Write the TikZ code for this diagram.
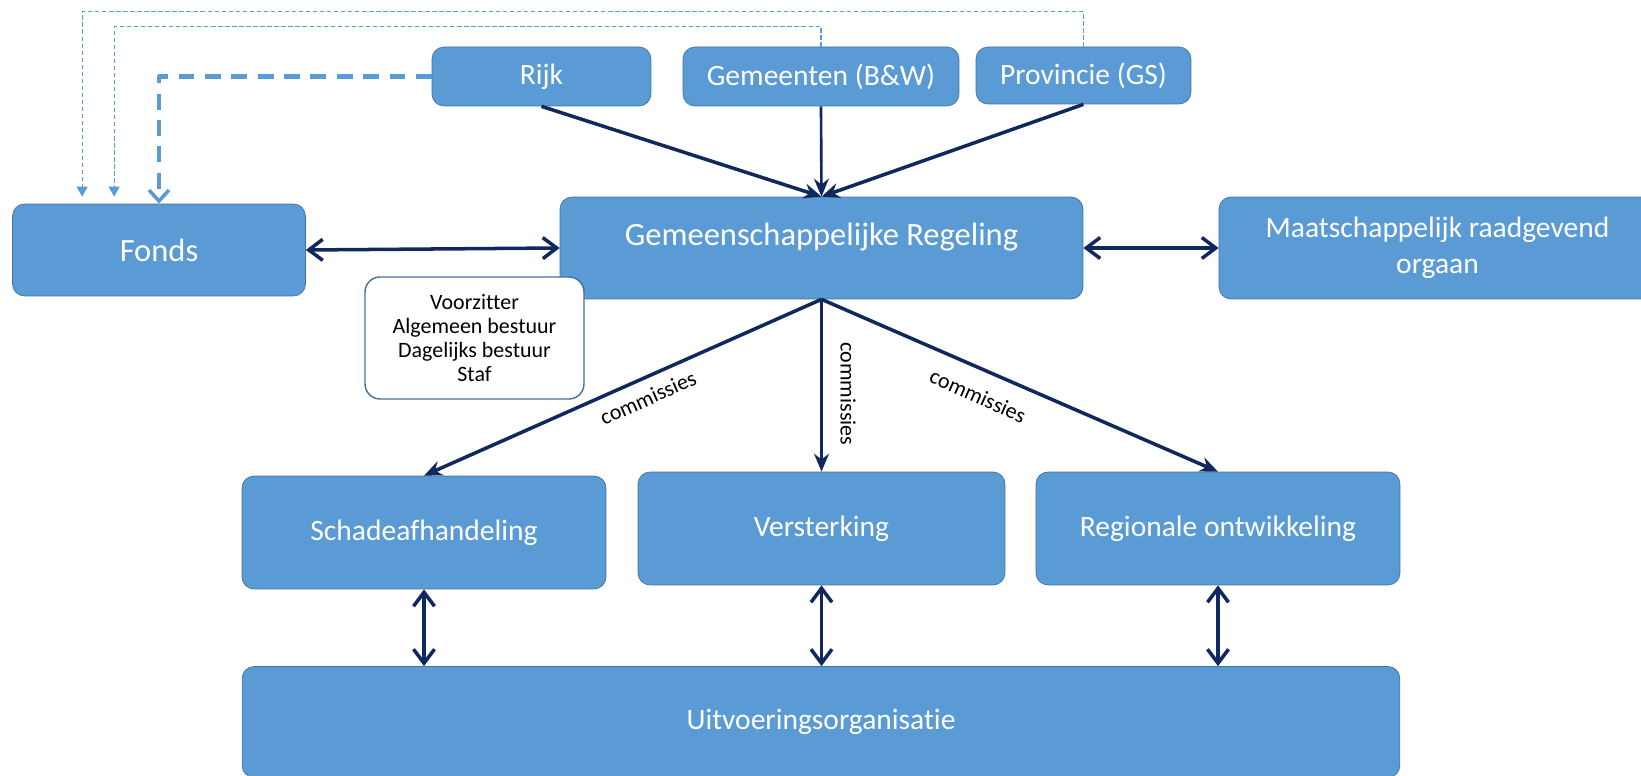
\documentclass[tikz,border=0pt]{standalone}
\usepackage{fontspec}
\setmainfont{Carlito}[Ligatures=NoCommon]
\usetikzlibrary{arrows.meta}
\definecolor{boxblue}{HTML}{5B9BD5}
\definecolor{boxline}{HTML}{41719C}
\definecolor{navy}{HTML}{10285E}
\tikzset{
	blok/.style={draw=boxline, fill=boxblue, rounded corners=0.24cm, text=white, inner sep=0pt, font=\fontsize{16.8}{20.5}\selectfont},
	pijl/.style={draw=navy, line width=2pt, -{Stealth[length=0.36cm,width=0.3cm]}},
	dubbel/.style={draw=navy, line width=2pt, {Straight Barb[length=0.28cm,width=0.42cm,line width=2pt]}-{Straight Barb[length=0.28cm,width=0.42cm,line width=2pt]}},
	stip/.style={draw=boxblue, line width=0.6pt, dash pattern=on 2.5pt off 1.5pt, -{Triangle[length=0.2cm,width=0.22cm]}, shorten >=0.14cm},
	lbl/.style={font=\fontsize{12.5}{14}\selectfont, inner sep=0pt}
}
\begin{document}
\begin{tikzpicture}[x=0.02cm, y=-0.02cm, line join=round]
			\useasboundingbox (0,0) rectangle (1641,776);
			% bovenste rij
			\node[blok, minimum width=4.38cm, minimum height=1.18cm] (rijk) at (541.5,76.5) {Rijk};
			\node[blok, minimum width=5.52cm, minimum height=1.18cm] (gem) at (821,76.5) {Gemeenten (B\&W)};
			\node[blok, minimum width=4.3cm, minimum height=1.14cm] (prov) at (1083.5,75.5) {Provincie (GS)};
			% middelste rij
			\node[blok, minimum width=10.46cm, minimum height=2.04cm, font=\fontsize{18.5}{22}\selectfont, text depth=16pt] (gr) at (821.5,248) {Gemeenschappelijke Regeling};
			\node[blok, minimum width=5.86cm, minimum height=1.84cm, font=\fontsize{18.5}{22}\selectfont] (fonds) at (159,250) {Fonds};
			\node[blok, minimum width=8.74cm, minimum height=2.04cm, align=center] (maat) at (1437.5,248) {Maatschappelijk raadgevend\\orgaan};
			\node[draw=boxline, line width=0.8pt, fill=white, rounded corners=0.3cm, minimum width=4.38cm, minimum height=2.44cm, align=center, inner sep=0pt, font=\fontsize{12.5}{13.6}\selectfont] (bestuur) at (474.5,338) {Voorzitter\\Algemeen bestuur\\Dagelijks bestuur\\Staf};
			% onderste rijen
			\node[blok, minimum width=7.28cm, minimum height=2.26cm] (schade) at (424,532.5) {Schadeafhandeling};
			\node[blok, minimum width=7.34cm, minimum height=2.26cm] (verst) at (821.5,528.5) {Versterking};
			\node[blok, minimum width=7.28cm, minimum height=2.26cm] (regio) at (1218,528.5) {Regionale ontwikkeling};
			\node[blok, minimum width=23.16cm, minimum height=2.22cm] (uitv) at (821,722) {Uitvoeringsorganisatie};
			% pijlen
			\draw[pijl] (rijk.south) -- (gr.north);
			\draw[pijl, line width=1.5pt] (gem.south) -- (gr.north);
			\draw[pijl] (prov.south) -- (gr.north);
			\draw[dubbel] (fonds.east) -- (gr.west);
			\draw[dubbel] (gr.east) -- (maat.west);
			\draw[pijl] (gr.south) -- (schade.north);
			\draw[pijl, line width=1.3pt] (gr.south) -- (verst.north);
			\draw[pijl] (gr.south) -- (regio.north);
			\foreach \b in {schade,verst,regio} \draw[dubbel] (\b.south) -- (\b.south |- uitv.north);
			\node[lbl, rotate=24] (com1) at (648,398) {commissies};
			\node[lbl, rotate=-90] (com2) at (848,394) {commissies};
			\node[lbl, rotate=-24] (com3) at (978,396) {commissies};
			% stippellijnen naar fonds
			\draw[boxblue, line width=2.3pt, dash pattern=on 9pt off 6pt, -{Straight Barb[length=0.22cm,width=0.4cm,line width=2pt]}] (rijk.west) -| (fonds.north);
			\draw[stip] (prov.north) -- ++(0,-35) -| ([xshift=1.4cm]fonds.north west);
			\draw[stip] (gem.north) -- ++(0,-20) -| ([xshift=2.04cm]fonds.north west);
		\end{tikzpicture}
\end{document}
